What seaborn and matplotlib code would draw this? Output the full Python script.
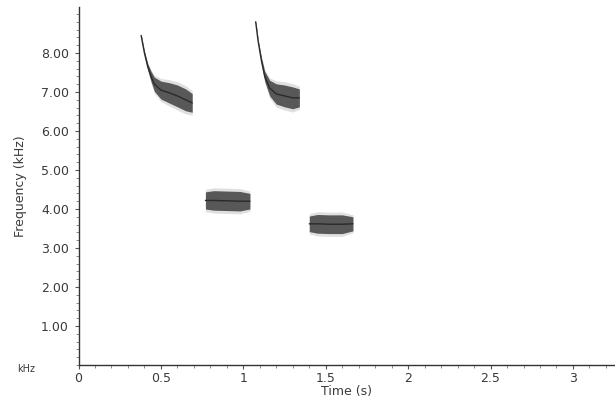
import numpy as np
import pandas as pd
import matplotlib
matplotlib.use("Agg")
import matplotlib.pyplot as plt
from matplotlib.ticker import MultipleLocator, FixedLocator
import seaborn as sns

# Syllable contours: time (s), centre frequency (kHz), half band width (kHz)
s1_time = [0.38, 0.40, 0.42, 0.44, 0.46, 0.50, 0.55, 0.60, 0.65, 0.69]
s1_freq = [8.45, 8.00, 7.65, 7.40, 7.20, 7.05, 6.98, 6.90, 6.80, 6.72]
s1_half = [0.03, 0.05, 0.08, 0.13, 0.18, 0.23, 0.26, 0.28, 0.28, 0.24]

s2_time = [0.77, 0.82, 0.90, 0.98, 1.04]
s2_freq = [4.22, 4.22, 4.21, 4.20, 4.20]
s2_half = [0.22, 0.25, 0.25, 0.25, 0.20]

s3_time = [1.075, 1.09, 1.11, 1.13, 1.16, 1.20, 1.25, 1.30, 1.34]
s3_freq = [8.80, 8.30, 7.80, 7.40, 7.10, 6.95, 6.90, 6.85, 6.85]
s3_half = [0.03, 0.04, 0.08, 0.13, 0.20, 0.26, 0.28, 0.28, 0.23]

s4_time = [1.40, 1.45, 1.52, 1.60, 1.665]
s4_freq = [3.62, 3.62, 3.61, 3.61, 3.62]
s4_half = [0.20, 0.24, 0.24, 0.24, 0.18]

y_ticks = [1, 2, 3, 4, 5, 6, 7, 8]
y_tick_labels = ["1.00", "2.00", "3.00", "4.00", "5.00", "6.00", "7.00", "8.00"]
x_ticks = [0, 0.5, 1, 1.5, 2, 2.5, 3]
x_tick_labels = ["0", "0.5", "1", "1.5", "2", "2.5", "3"]

syllables = pd.concat([
    pd.DataFrame({"time": t, "freq": f, "half": h, "syllable": k})
    for k, (t, f, h) in enumerate([
        (s1_time, s1_freq, s1_half),
        (s2_time, s2_freq, s2_half),
        (s3_time, s3_freq, s3_half),
        (s4_time, s4_freq, s4_half),
    ])
], ignore_index=True)

sns.set_theme(style="white")
plt.rcParams["font.family"] = ["DejaVu Sans"]

fig = plt.figure(figsize=(6.15, 4.04), dpi=100)
ax = fig.add_axes([78.5 / 615, 39 / 404, 1 - 78.5 / 615, (365 - 7) / 404])

ink = "#404040"
for k, grp in syllables.groupby("syllable"):
    t = grp["time"].to_numpy()
    f = grp["freq"].to_numpy()
    h = grp["half"].to_numpy()
    # faint fringe around each call, then the dense core
    ax.fill_between(t, f - h * 1.3, f + h * 1.3, color="#a8a8a8", alpha=0.35, lw=0)
    ax.fill_between(t, f - h, f + h, color=ink, alpha=0.85, lw=0)

sns.lineplot(data=syllables, x="time", y="freq", units="syllable", estimator=None,
             color="#2a2a2a", lw=1.0, ax=ax, legend=False, sort=False)

ax.set_xlim(0, 3.255)
ax.set_ylim(0, 9.18)

for side in ["top", "right"]:
    ax.spines[side].set_visible(False)
for side in ["left", "bottom"]:
    ax.spines[side].set_color("#333333")
    ax.spines[side].set_linewidth(1.0)

text_col = "#3a3a3a"
ax.yaxis.set_major_locator(FixedLocator(y_ticks))
ax.set_yticklabels(y_tick_labels)
ax.yaxis.set_minor_locator(MultipleLocator(0.2))
ax.xaxis.set_major_locator(FixedLocator(x_ticks))
ax.set_xticklabels(x_tick_labels)
ax.xaxis.set_minor_locator(MultipleLocator(0.1))

ax.tick_params(axis="both", which="both", left=True, bottom=True)
ax.tick_params(axis="both", which="major", direction="out", length=3, width=0.8,
               color="#555555", labelsize=9, labelcolor=text_col)
ax.tick_params(axis="both", which="minor", direction="out", length=2, width=0.6,
               color="#777777")
ax.tick_params(axis="y", which="major", pad=4)
ax.tick_params(axis="x", which="major", pad=2)

ax.set_ylabel("Frequency (kHz)", fontsize=9, color=text_col, labelpad=10)
ax.set_xlabel("Time (s)", fontsize=9, color=text_col, labelpad=0)
ax.text(-0.32, -0.1, "kHz", fontsize=7, color=text_col, ha="center", va="center",
        transform=ax.transData, clip_on=False)

fig.savefig("out.png", dpi=100, facecolor="white")
